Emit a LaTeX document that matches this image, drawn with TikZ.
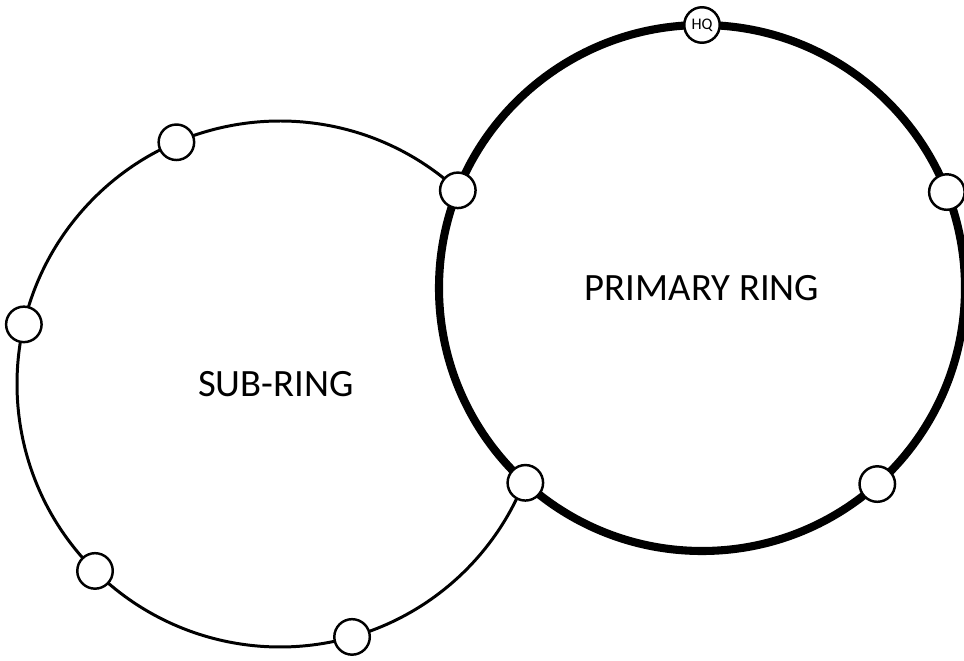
\documentclass[tikz,border=0pt]{standalone}
\usepackage{fontspec}
\setmainfont{Carlito}
\usetikzlibrary{positioning}
\tikzset{auto, font=\fontsize{11}{11}\selectfont}
\tikzstyle{station} = [draw, fill=white, circle, line width=0.7pt, minimum size=0.355cm, inner sep=0pt, outer sep=0pt]
\tikzstyle{hq} = [station, font=\fontsize{4.6}{4.6}\selectfont]
\tikzstyle{primary} = [draw, line width=2.3pt]
\tikzstyle{subring} = [draw, line width=0.85pt]
\tikzstyle{label} = [inner sep=0pt]

\begin{document}
\begin{tikzpicture}
    \useasboundingbox (0,0) rectangle (9.64,6.61);
    \clip (0,0) rectangle (9.64,6.61);
    \coordinate (prim) at (7.02,3.73);
    \coordinate (sub) at (2.80,2.77);

    % rings
    \draw [primary] (prim) circle [radius=2.63];
    \draw [subring] ([shift={(47.5:2.63)}]sub) arc [start angle=47.5, end angle=338.1, radius=2.63];

    % primary ring stations
    \node [hq] (hq) at ([shift={(90:2.63)}]prim) {HQ};
    \node [station] (p_east) at ([shift={(21.4:2.63)}]prim) {};
    \node [station] (p_south) at ([shift={(-48.2:2.63)}]prim) {};
    \node [station] (link_top) at ([shift={(158.2:2.63)}]prim) {};
    \node [station] (link_bottom) at ([shift={(227.8:2.63)}]prim) {};

    % sub-ring stations
    \node [station] (s_top) at ([shift={(113.2:2.63)}]sub) {};
    \node [station] (s_west) at ([shift={(166.9:2.63)}]sub) {};
    \node [station] (s_sw) at ([shift={(225.3:2.63)}]sub) {};
    \node [station] (s_south) at ([shift={(285.9:2.63)}]sub) {};

    \node [label] (prim_name) at (prim) {PRIMARY RING};
    \node [label] (sub_name) at ([shift={(-0.04,0)}]sub) {SUB-RING};
\end{tikzpicture}
\end{document}
